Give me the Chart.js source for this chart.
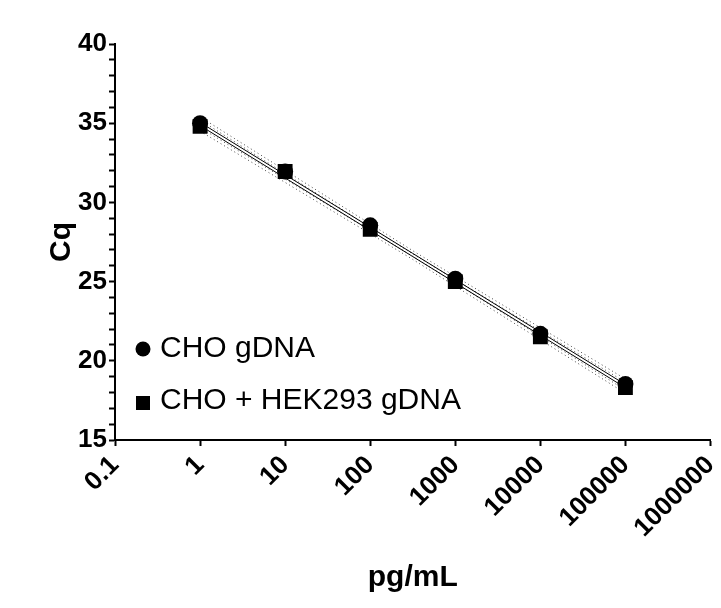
<!DOCTYPE html>
<html>
<head>
<meta charset="utf-8">
<script src="https://cdn.jsdelivr.net/npm/chart.js@4/dist/chart.umd.min.js"></script>
<style>
  body { margin: 0; background: #fff; }
  #wrap { width: 721px; height: 608px; }
</style>
</head>
<body>
<div id="wrap"><canvas id="chart"></canvas></div>
<script>
// concentrations (pg/mL) and Cq values
const conc = [1, 10, 100, 1000, 10000, 100000];
const choCq = [35.0, 31.95, 28.55, 25.18, 21.7, 18.54];
const hekCq = [34.8, 31.95, 28.3, 25.0, 21.52, 18.31];

// fitted lines and 95% bands, read at start / middle / end
const fitX = [1, 316.2, 100000];
const choFit = [35.05, 26.78, 18.5];
const hekFit = [34.85, 26.58, 18.3];
const choUpper = [35.4, 26.95, 18.85];
const choLower = [34.72, 26.6, 18.15];
const hekUpper = [35.2, 26.75, 18.65];
const hekLower = [34.5, 26.4, 17.95];

const xTicks = [0.1, 1, 10, 100, 1000, 10000, 100000, 1000000];
const legendNames = ["CHO gDNA", "CHO + HEK293 gDNA"];

const tickFont = { family: "'Liberation Sans', Arial, sans-serif", size: 26, weight: "bold" };
const titleFont = { family: "'Liberation Sans', Arial, sans-serif", size: 30, weight: "bold" };

function pts(xs, ys) {
	return xs.map((x, i) => ({ x: x, y: ys[i] }));
}

function fitLine(ys, dashed) {
	return {
		data: pts(fitX, ys),
		showLine: true,
		borderColor: dashed ? "#444" : "#000",
		borderWidth: 1,
		borderDash: dashed ? [1, 3] : [],
		pointRadius: 0,
		order: 2,
	};
}

// legend drawn inside the plot, bottom left
const insideLegend = {
	id: "insideLegend",
	afterDraw(chart) {
		const ctx = chart.ctx;
		const area = chart.chartArea;
		const x = area.left + 28;
		ctx.save();
		ctx.fillStyle = "#000";
		ctx.font = "30px 'Liberation Sans', Arial, sans-serif";
		ctx.textBaseline = "middle";

		let y = area.top + 305;
		ctx.beginPath();
		ctx.arc(x, y, 7.5, 0, Math.PI * 2);
		ctx.fill();
		ctx.fillText(legendNames[0], x + 17, y);

		y = area.top + 357;
		ctx.fillRect(x - 7, y - 5, 14, 14);
		ctx.fillText(legendNames[1], x + 17, y);
		ctx.restore();
	},
};

new Chart(document.getElementById("chart"), {
	type: "scatter",
	data: {
		datasets: [
			{
				label: legendNames[0],
				data: pts(conc, choCq),
				pointStyle: "circle",
				pointRadius: 8,
				backgroundColor: "#000",
				borderColor: "#000",
				borderWidth: 0,
				order: 0,
			},
			{
				label: legendNames[1],
				data: pts(conc, hekCq),
				pointStyle: "rect",
				pointRadius: 10.5,
				backgroundColor: "#000",
				borderColor: "#000",
				borderWidth: 0,
				order: 1,
			},
			fitLine(choFit, false),
			fitLine(hekFit, false),
			fitLine(choUpper, true),
			fitLine(choLower, true),
			fitLine(hekUpper, true),
			fitLine(hekLower, true),
		],
	},
	options: {
		responsive: true,
		maintainAspectRatio: false,
		animation: false,
		layout: { padding: { top: 44, right: 10, left: 0, bottom: 0 } },
		plugins: {
			legend: { display: false },
			tooltip: { enabled: false },
		},
		scales: {
			x: {
				type: "logarithmic",
				min: 0.1,
				max: 1000000,
				afterBuildTicks: (scale) => {
					scale.ticks = xTicks.map((v) => ({ value: v }));
				},
				afterFit: (scale) => {
					scale.height = 168;
					scale.paddingRight = 0;
					scale.paddingLeft = 0;
				},
				ticks: {
					autoSkip: false,
					minRotation: 45,
					maxRotation: 45,
					padding: 4,
					color: "#000",
					font: tickFont,
					callback: (v) => String(v),
				},
				grid: { drawOnChartArea: false, drawTicks: true, tickLength: 6, tickWidth: 2, color: "#000" },
				border: { color: "#000", width: 2 },
				title: { display: true, text: "pg/mL", color: "#000", font: titleFont, padding: { top: 0, bottom: 12 } },
			},
			y: {
				min: 15,
				max: 40,
				afterFit: (scale) => {
					scale.width = 115;
				},
				ticks: {
					stepSize: 1,
					autoSkip: false,
					padding: 2,
					color: "#000",
					font: tickFont,
					callback: (v) => (v % 5 === 0 ? String(v) : ""),
				},
				grid: { drawOnChartArea: false, drawTicks: true, tickLength: 6, tickWidth: 2, color: "#000" },
				border: { color: "#000", width: 2 },
				title: { display: true, text: "Cq", color: "#000", font: titleFont, padding: { top: 44, bottom: 0 } },
			},
		},
	},
	plugins: [insideLegend],
});
</script>
</body>
</html>
